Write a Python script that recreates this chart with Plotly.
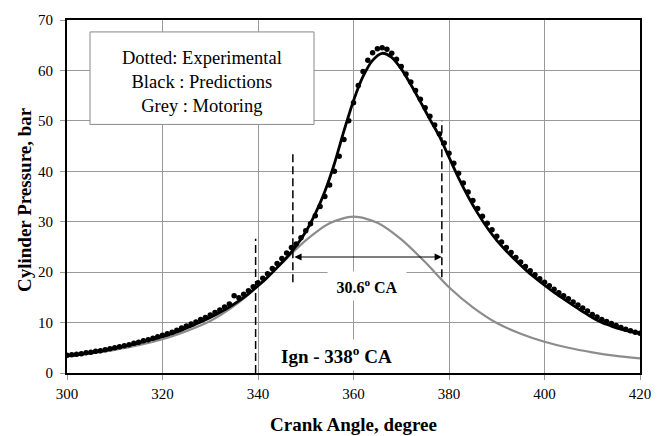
import plotly.graph_objects as go

# ---------------- data ----------------
# Experimental (dots), every 1 deg CA from 300 to 420
exp_angle = list(range(300, 421))
exp_pressure = [
    3.5, 3.6, 3.7, 3.8, 4.0, 4.1, 4.3, 4.4, 4.6, 4.8,      # 300-309
    5.0, 5.2, 5.4, 5.6, 5.9, 6.1, 6.4, 6.6, 6.9, 7.2,      # 310-319
    7.5, 7.8, 8.1, 8.5, 8.9, 9.3, 9.7, 10.1, 10.6, 11.0,   # 320-329
    11.5, 12.0, 12.5, 13.1, 13.7, 15.3, 14.9, 15.6, 16.3, 17.1,  # 330-339
    17.9, 18.8, 19.7, 20.7, 21.7, 22.7, 23.8, 24.9, 25.6, 26.8,  # 340-349
    28.2, 29.6, 31.2, 33.0, 35.0, 37.3, 40.0, 43.0, 46.3, 50.0,  # 350-359
    53.6, 57.0, 59.8, 62.0, 63.5, 64.3, 64.5, 64.2, 63.4, 62.2,  # 360-369
    60.8, 59.3, 57.7, 56.0, 54.3, 52.6, 50.9, 49.2, 47.4, 45.6,  # 370-379
    43.6, 41.6, 39.6, 37.7, 35.9, 34.2, 32.6, 31.1, 29.7, 28.4,  # 380-389
    27.1, 26.0, 24.9, 23.9, 22.9, 22.0, 21.1, 20.3, 19.5, 18.7,  # 390-399
    18.0, 17.3, 16.6, 15.9, 15.3, 14.7, 14.1, 13.5, 12.9, 12.3,  # 400-409
    11.6, 11.1, 10.6, 10.2, 9.8, 9.4, 9.0, 8.7, 8.4, 8.1,        # 410-419
    7.9,                                                          # 420
]

# Predictions (black line), every 2 deg CA
pred_angle = list(range(300, 421, 2))
pred_pressure = [
    3.4, 3.6, 3.9, 4.2, 4.5, 4.9, 5.3, 5.7, 6.2, 6.7,          # 300-318
    7.2, 7.8, 8.5, 9.3, 10.1, 11.0, 12.0, 13.1, 14.3, 15.7,    # 320-338
    17.3, 19.0, 20.9, 22.9, 25.2, 28.0, 31.6, 36.0, 41.5, 48.0,  # 340-358
    54.0, 58.8, 62.0, 63.4, 62.6, 60.3, 57.2, 53.8, 50.3, 46.9,  # 360-378
    42.8, 38.7, 35.0, 31.7, 28.8, 26.3, 24.2, 22.3, 20.5, 18.9,  # 380-398
    17.4, 16.0, 14.7, 13.4, 12.2, 11.0, 10.0, 9.3, 8.7, 8.2,     # 400-418
    7.8,                                                          # 420
]

# Motoring (grey line), every 5 deg CA
mot_angle = list(range(300, 421, 5))
mot_pressure = [
    3.3, 3.9, 4.6, 5.5, 6.7, 8.3, 10.3, 13.3, 17.2, 21.8,
    26.3, 29.7, 31.0, 29.8, 26.5, 22.0, 17.0, 13.0, 9.9, 7.8,
    6.2, 5.0, 4.1, 3.4, 2.9,
]

# Annotation markers
ign_line = {"x": 339.5, "y0": 0, "y1": 26.6}
start_line = {"x": 347.3, "y0": 18, "y1": 44}
end_line = {"x": 378.5, "y0": 19, "y1": 50}
arrow_y = 23
duration_label = "30.6<sup>o</sup> CA"
ign_label = "Ign - 338<sup>o</sup> CA"
legend_lines = ["Dotted: Experimental", "Black : Predictions", "Grey : Motoring"]

FONT = "Times New Roman, Liberation Serif, serif"

fig = go.Figure()
fig.add_trace(go.Scatter(x=mot_angle, y=mot_pressure, mode="lines",
                         line=dict(color="#8c8c8c", width=2.2, shape="spline", smoothing=0.8),
                         hoverinfo="skip", showlegend=False))
fig.add_trace(go.Scatter(x=pred_angle, y=pred_pressure, mode="lines",
                         line=dict(color="black", width=2.8, shape="spline", smoothing=0.8),
                         hoverinfo="skip", showlegend=False))
fig.add_trace(go.Scatter(x=exp_angle, y=exp_pressure, mode="markers",
                         marker=dict(color="black", size=5.5),
                         hoverinfo="skip", showlegend=False))

# dashed vertical lines
for ln in (ign_line, start_line, end_line):
    fig.add_shape(type="line", xref="x", yref="y", x0=ln["x"], x1=ln["x"],
                  y0=ln["y0"], y1=ln["y1"],
                  line=dict(color="black", width=1.5, dash="8px,4px"))

# double-headed arrow
fig.add_annotation(x=end_line["x"], y=arrow_y, ax=start_line["x"], ay=arrow_y,
                   xref="x", yref="y", axref="x", ayref="y", text="",
                   showarrow=True, arrowhead=2, arrowside="end+start",
                   arrowsize=1.2, arrowwidth=1.2, arrowcolor="black",
                   standoff=0, startstandoff=0)

fig.add_annotation(x=362.8, y=17.2, xref="x", yref="y", text=duration_label,
                   xanchor="center", yanchor="middle",
                   showarrow=False, font=dict(family=FONT, size=16, color="black", weight="bold"),
                   bgcolor="white", borderpad=4, width=70)
fig.add_annotation(x=356.5, y=3.6, xref="x", yref="y", text=ign_label,
                   xanchor="center", yanchor="middle",
                   showarrow=False, font=dict(family=FONT, size=19, color="black", weight="bold"),
                   bgcolor="white", borderpad=3)

# legend text box
fig.add_shape(type="rect", xref="paper", yref="paper",
              x0=(90 - 67) / 573, x1=(314 - 67) / 573,
              y0=(373 - 123) / 355, y1=(373 - 30) / 355,
              fillcolor="white", line=dict(color="#888888", width=1), layer="above")
fig.add_annotation(x=((90 + 314) / 2 - 67) / 573, y=(373 - 80) / 355,
                   xref="paper", yref="paper", text="<br>".join(legend_lines),
                   xanchor="center", yanchor="middle",
                   showarrow=False, align="center",
                   font=dict(family=FONT, size=18.5, color="black"))

# axis titles
fig.add_annotation(x=(24 - 67) / 573, y=0.49, xref="paper", yref="paper",
                   xanchor="center", yanchor="middle",
                   text="Cylinder Pressure, bar", textangle=-90, showarrow=False,
                   font=dict(family=FONT, size=19, color="black", weight="bold"))
fig.add_annotation(x=0.5, y=(373 - 425) / 355, xref="paper", yref="paper",
                   xanchor="center", yanchor="middle",
                   text="Crank Angle, degree", showarrow=False,
                   font=dict(family=FONT, size=19, color="black", weight="bold"))

axis_common = dict(showline=True, linecolor="black", linewidth=2, mirror=True,
                   showgrid=True, gridcolor="#9a9a9a", gridwidth=1,
                   ticks="outside", ticklen=5, tickcolor="#9a9a9a", tickwidth=1,
                   tickfont=dict(family=FONT, size=15, color="black"),
                   zeroline=False)
fig.update_xaxes(range=[300, 420], dtick=20, tick0=300, ticklabelstandoff=1, **axis_common)
fig.update_yaxes(range=[0, 70], dtick=10, tick0=0, ticklabelstandoff=4, **axis_common)

fig.update_layout(width=664, height=436, plot_bgcolor="white", paper_bgcolor="white",
                  margin=dict(l=67, r=24, t=18, b=63), showlegend=False,
                  font=dict(family=FONT))

fig.write_html("out.html", config={"displayModeBar": False},
               post_script="document.body.style.margin='0';document.body.style.padding='0';")
